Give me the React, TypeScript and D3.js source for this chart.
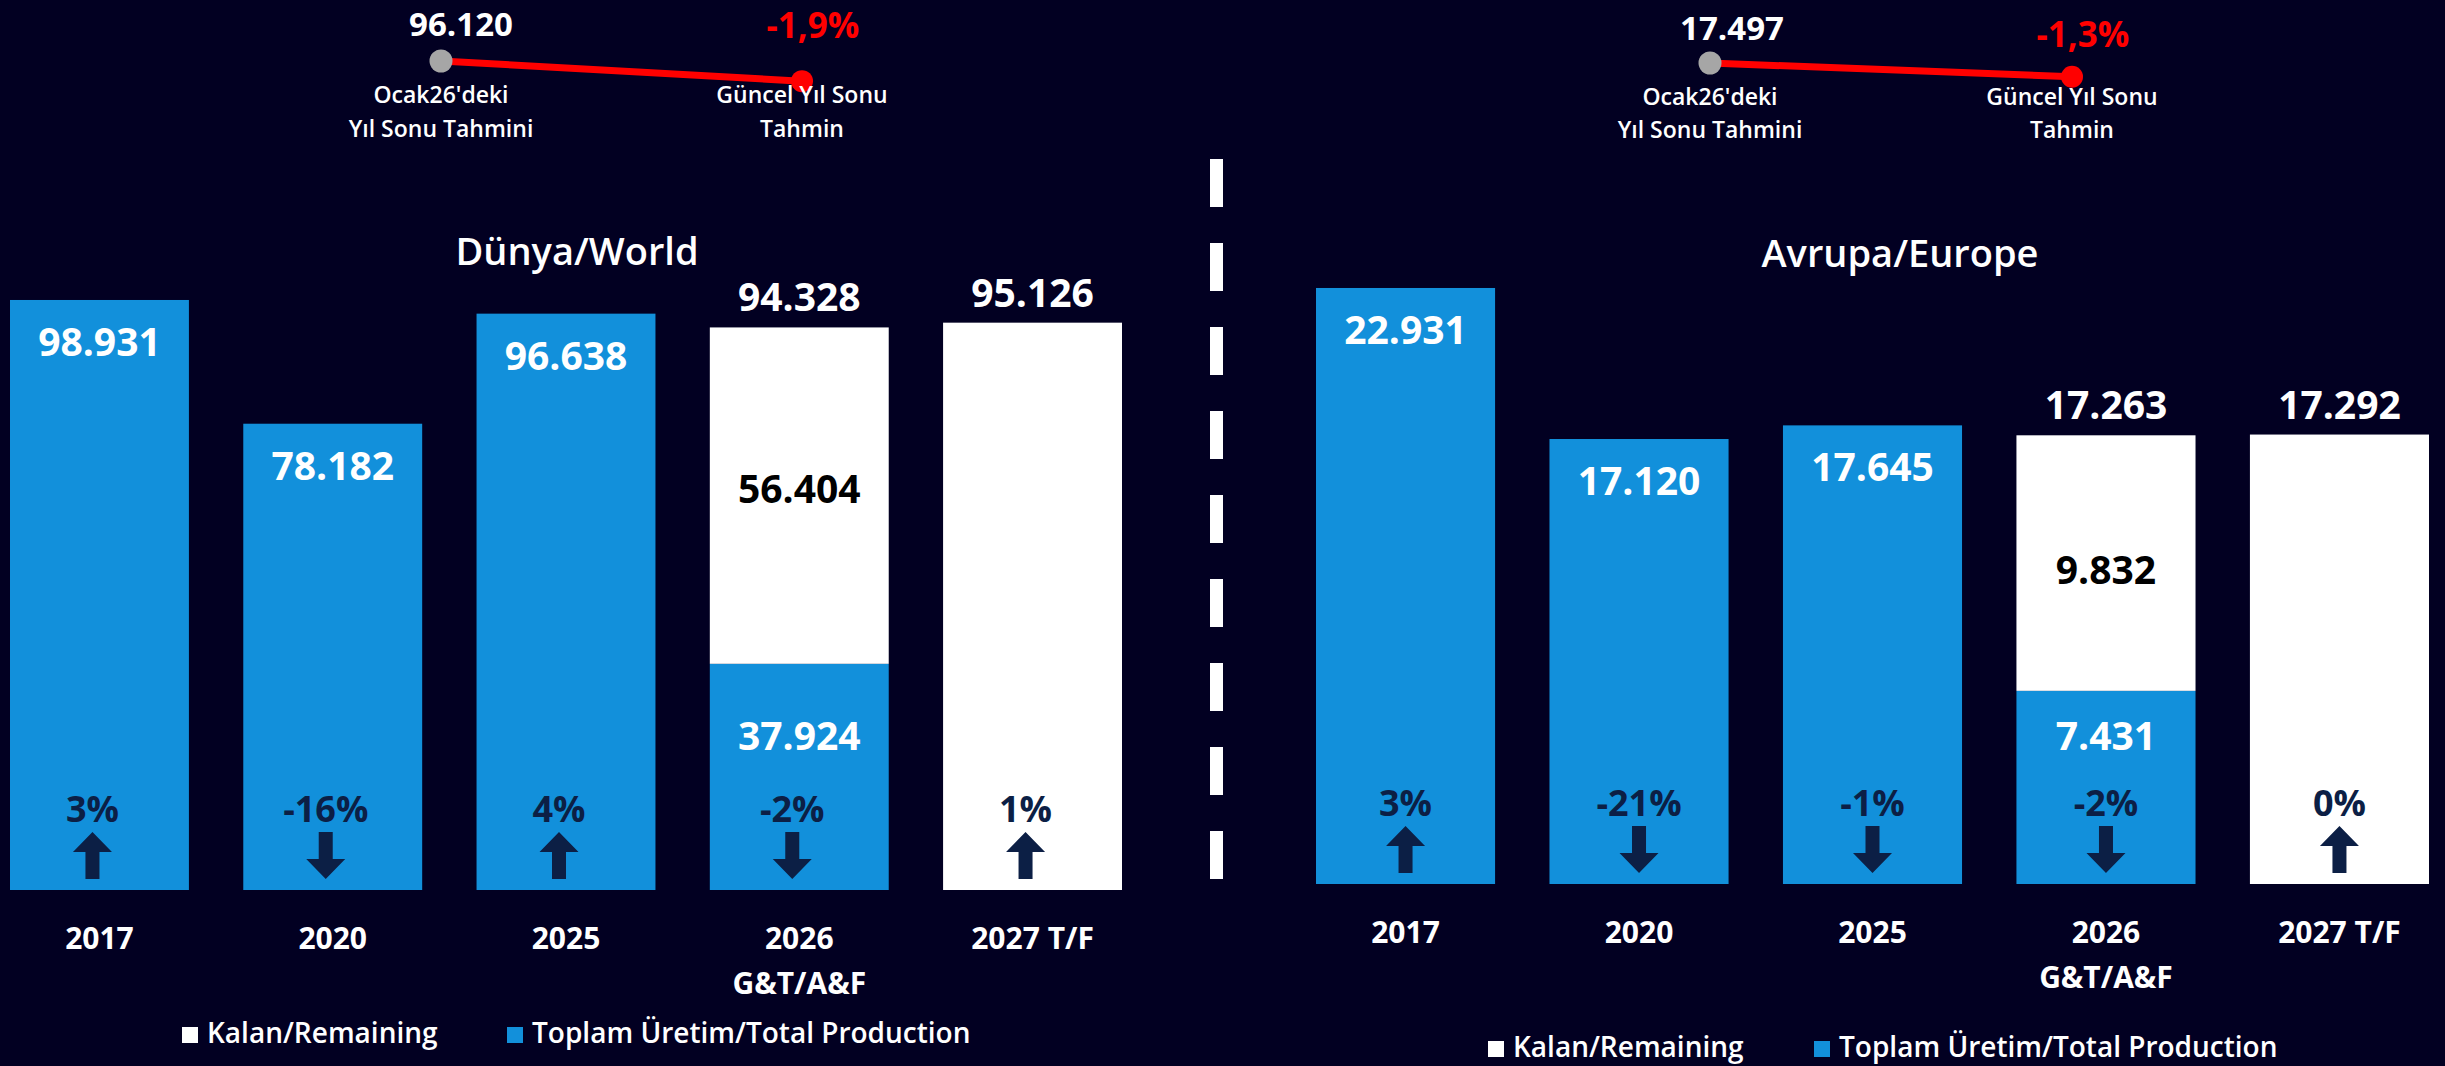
import * as d3 from "d3";

// values in units (thousands shown as "98.931")
const categories = [["2017"], ["2020"], ["2025"], ["2026", "G&T/A&F"], ["2027 T/F"]];
const worldProduction = [98931, 78182, 96638, 37924, 0];
const worldRemaining = [0, 0, 0, 56404, 95126];
const worldChange = [3, -16, 4, -2, 1];
const worldJanForecast = 96120;
const europeProduction = [22931, 17120, 17645, 7431, 0];
const europeRemaining = [0, 0, 0, 9832, 17292];
const europeChange = [3, -21, -1, -2, 0];
const europeJanForecast = 17497;
const legendLabels = ["Kalan/Remaining", "Toplam Üretim/Total Production"];
const forecastLabels = [
  ["Ocak26'deki", "Yıl Sonu Tahmini"],
  ["Güncel Yıl Sonu", "Tahmin"],
];

const BG = "#020022";
const BLUE = "#1290DB";
const NAVY = "#0C1F45";
const RED = "#FF0000";
const GRAY = "#A6A6A6";
const FONT = "'Open Sans', 'Noto Sans', sans-serif";

const loc = d3.formatLocale({
  decimal: ",",
  thousands: ".",
  grouping: [3],
  currency: ["", ""],
  minus: "-",
});
const fmt = loc.format(",d");
const fmtPct = loc.format(".1f");

type PanelProps = {
  title: string;
  production: number[];
  remaining: number[];
  change: number[];
  janForecast: number;
  xRange: [number, number];
  yBottom: number;
  yMax: number;
  yMaxPx: number;
  titlePos: [number, number];
  catY: number;
  pctDx: number;
  stackProdDy: number;
  remDy: number;
  dotX: [number, number];
  dotBase: number;
  prevLabel: [number, number];
  curLabel: [number, number];
  annY: [number, number];
  legendX: [number, number];
  legendY: number;
};

const pctScale = d3.scaleLinear().domain([0, -2]).range([0, 21.2]);

function Panel(p: PanelProps) {
  const x = d3
    .scaleBand<number>()
    .domain(categories.map((_, i) => i))
    .range(p.xRange)
    .paddingInner(0.233)
    .paddingOuter(0);
  const y = d3.scaleLinear().domain([0, p.yMax]).range([p.yBottom, p.yMaxPx]);
  const bw = x.bandwidth();

  const current = p.production[3] + p.remaining[3];
  const pct = ((current - p.janForecast) / p.janForecast) * 100;
  const ax = d3.scalePoint<number>().domain([0, 1]).range(p.dotX);
  const dotY = [p.dotBase, p.dotBase + pctScale(Number(fmtPct(pct).replace(",", ".")))];

  return (
    <g>
      {/* forecast change annotation */}
      <line
        x1={ax(0)}
        y1={dotY[0]}
        x2={ax(1)}
        y2={dotY[1]}
        stroke={RED}
        strokeWidth={7}
      />
      <circle cx={ax(0)} cy={dotY[0]} r={11.5} fill={GRAY} />
      <circle cx={ax(1)} cy={dotY[1]} r={11} fill={RED} />
      <text
        x={ax(0)! + p.prevLabel[0]}
        y={p.prevLabel[1]}
        textAnchor="middle"
        fill="#fff"
        fontSize={33}
        fontWeight={700}
      >
        {fmt(p.janForecast)}
      </text>
      <text
        x={ax(1)! + p.curLabel[0]}
        y={p.curLabel[1]}
        textAnchor="middle"
        fill={RED}
        fontSize={35}
        fontWeight={700}
      >
        {fmtPct(pct) + "%"}
      </text>
      {forecastLabels.map((lines, i) =>
        lines.map((t, j) => (
          <text
            key={`${i}-${j}`}
            x={ax(i)}
            y={p.annY[j]}
            textAnchor="middle"
            fill="#fff"
            fontSize={23}
            fontWeight={600}
          >
            {t}
          </text>
        ))
      )}

      <text
        x={p.titlePos[0]}
        y={p.titlePos[1]}
        textAnchor="middle"
        fill="#fff"
        fontSize={38}
        fontWeight={600}
      >
        {p.title}
      </text>

      {categories.map((cat, i) => {
        const x0 = x(i)!;
        const cx = x0 + bw / 2;
        const prod = p.production[i];
        const rem = p.remaining[i];
        const total = prod + rem;
        const yProd = y(prod);
        const yTot = y(total);
        const ch = p.change[i];
        const ax0 = cx + p.pctDx;
        const b = p.yBottom;
        const up = ch >= 0;
        const arrow = up
          ? [
              [ax0, b - 58],
              [ax0 + 19.5, b - 38],
              [ax0 + 7, b - 38],
              [ax0 + 7, b - 11],
              [ax0 - 7, b - 11],
              [ax0 - 7, b - 38],
              [ax0 - 19.5, b - 38],
            ]
          : [
              [ax0 - 7, b - 58],
              [ax0 + 7, b - 58],
              [ax0 + 7, b - 31],
              [ax0 + 19.5, b - 31],
              [ax0, b - 11],
              [ax0 - 19.5, b - 31],
              [ax0 - 7, b - 31],
            ];
        return (
          <g key={i}>
            {prod > 0 && (
              <rect x={x0} y={yProd} width={bw} height={b - yProd} fill={BLUE} />
            )}
            {rem > 0 && (
              <rect x={x0} y={yTot} width={bw} height={yProd - yTot} fill="#fff" />
            )}
            {rem === 0 && (
              <text
                x={cx}
                y={yProd + 56}
                textAnchor="middle"
                fill="#fff"
                fontSize={39}
                fontWeight={700}
              >
                {fmt(prod)}
              </text>
            )}
            {rem > 0 && (
              <text
                x={cx}
                y={yTot - 16}
                textAnchor="middle"
                fill="#fff"
                fontSize={39}
                fontWeight={700}
              >
                {fmt(total)}
              </text>
            )}
            {rem > 0 && prod > 0 && (
              <>
                <text
                  x={cx}
                  y={(yTot + yProd) / 2 + p.remDy}
                  textAnchor="middle"
                  fill="#000"
                  fontSize={39}
                  fontWeight={700}
                >
                  {fmt(rem)}
                </text>
                <text
                  x={cx}
                  y={yProd + p.stackProdDy}
                  textAnchor="middle"
                  fill="#fff"
                  fontSize={39}
                  fontWeight={700}
                >
                  {fmt(prod)}
                </text>
              </>
            )}
            <text
              x={ax0}
              y={b - 68}
              textAnchor="middle"
              fill={NAVY}
              fontSize={36}
              fontWeight={700}
            >
              {`${ch}%`}
            </text>
            <polygon points={arrow.map((d) => d.join(",")).join(" ")} fill={NAVY} />
            {cat.map((t, j) => (
              <text
                key={j}
                x={cx}
                y={p.catY + j * 45}
                textAnchor="middle"
                fill="#fff"
                fontSize={30}
                fontWeight={700}
              >
                {t}
              </text>
            ))}
          </g>
        );
      })}

      {/* legend */}
      {legendLabels.map((t, i) => (
        <g key={t}>
          <rect
            x={p.legendX[i]}
            y={p.legendY - 16}
            width={16}
            height={16}
            fill={i === 0 ? "#fff" : BLUE}
          />
          <text
            x={p.legendX[i] + 25}
            y={p.legendY}
            fill="#fff"
            fontSize={28}
            fontWeight={600}
          >
            {t}
          </text>
        </g>
      ))}
    </g>
  );
}

export default function App() {
  const width = 2445;
  const height = 1066;
  return (
    <svg
      width={width}
      height={height}
      style={{ position: "absolute", left: 0, top: 0, display: "block" }}
      fontFamily={FONT}
    >
      <rect width={width} height={height} fill={BG} />
      <Panel
        title="Dünya/World"
        production={worldProduction}
        remaining={worldRemaining}
        change={worldChange}
        janForecast={worldJanForecast}
        xRange={[10, 1122]}
        yBottom={890}
        yMax={100000}
        yMaxPx={293.6}
        titlePos={[577, 265]}
        catY={949}
        pctDx={-7}
        stackProdDy={86}
        remDy={7}
        dotX={[441, 802]}
        dotBase={61}
        prevLabel={[20, 36]}
        curLabel={[11, 38]}
        annY={[103, 137]}
        legendX={[182, 507]}
        legendY={1043}
      />
      <line
        x1={1216.5}
        x2={1216.5}
        y1={159}
        y2={879}
        stroke="#fff"
        strokeWidth={13}
        strokeDasharray="48 36"
      />
      <Panel
        title="Avrupa/Europe"
        production={europeProduction}
        remaining={europeRemaining}
        change={europeChange}
        janForecast={europeJanForecast}
        xRange={[1316, 2429]}
        yBottom={884}
        yMax={25000}
        yMaxPx={234.2}
        titlePos={[1900, 267]}
        catY={943}
        pctDx={0}
        stackProdDy={59}
        remDy={21}
        dotX={[1710, 2072]}
        dotBase={63}
        prevLabel={[22, 40]}
        curLabel={[11, 47]}
        annY={[105, 138]}
        legendX={[1488, 1814]}
        legendY={1057}
      />
    </svg>
  );
}
